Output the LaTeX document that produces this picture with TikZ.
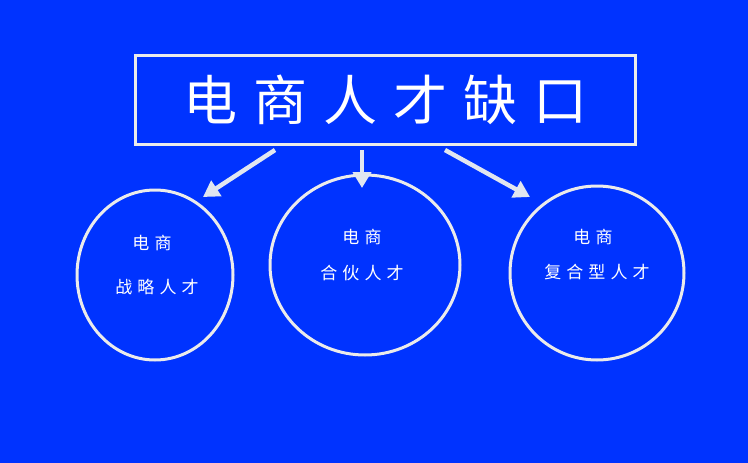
\documentclass[tikz,border=0pt]{standalone}
\usepackage{fontspec}
\newfontfamily\cjk[LetterSpace=30]{Noto Sans CJK SC}
\usetikzlibrary{arrows.meta}
\definecolor{bg}{RGB}{0,51,255}
\definecolor{arw}{RGB}{225,230,240}
\tikzset{x=1pt,y=-1pt,
 ring/.style={draw=white!92!black,line width=3pt,ellipse},
 lbl/.style={text=white,font=\cjk\fontsize{17}{17}\selectfont},
 arr/.style={draw=arw,line width=4.5pt,-{Triangle[length=16pt,width=18pt]}}}
\usetikzlibrary{shapes.geometric}
\begin{document}
\begin{tikzpicture}
\fill[bg] (0,0) rectangle (748,463);
\useasboundingbox (0,0) rectangle (748,463);
\node[draw=white!92!black,line width=3pt,minimum width=500pt,minimum height=89pt,text=white,font=\cjk\fontsize{54}{54}\selectfont] (t) at (385.5,100) {电商人才缺口\hspace{-16pt}};
\node[ring,minimum width=156pt,minimum height=170pt] (c1) at (155,275) {};
\node[ring,minimum width=190pt,minimum height=180pt] (c2) at (365,265) {};
\node[ring,minimum width=174pt,minimum height=174pt] (c3) at (597,273) {};
\node[lbl] (a1) at (152,243) {电商\hspace{-5pt}};
\node[lbl] (b1) at (157,287) {战略人才\hspace{-5pt}};
\node[lbl] (a2) at (362,237) {电商\hspace{-5pt}};
\node[lbl] (b2) at (362,273) {合伙人才\hspace{-5pt}};
\node[lbl] (a3) at (593,237) {电商\hspace{-5pt}};
\node[lbl] (b3) at (597,272) {复合型人才\hspace{-5pt}};
\coordinate (s1) at (275,150); \coordinate (e1) at (203,197);
\coordinate (s2) at (362,150); \coordinate (e2) at (362,188);
\coordinate (s3) at (445,150); \coordinate (e3) at (530,197);
\draw[arr] (s1) -- (e1);
\draw[arr] (s2) -- (e2);
\draw[arr] (s3) -- (e3);
\end{tikzpicture}
\end{document}
